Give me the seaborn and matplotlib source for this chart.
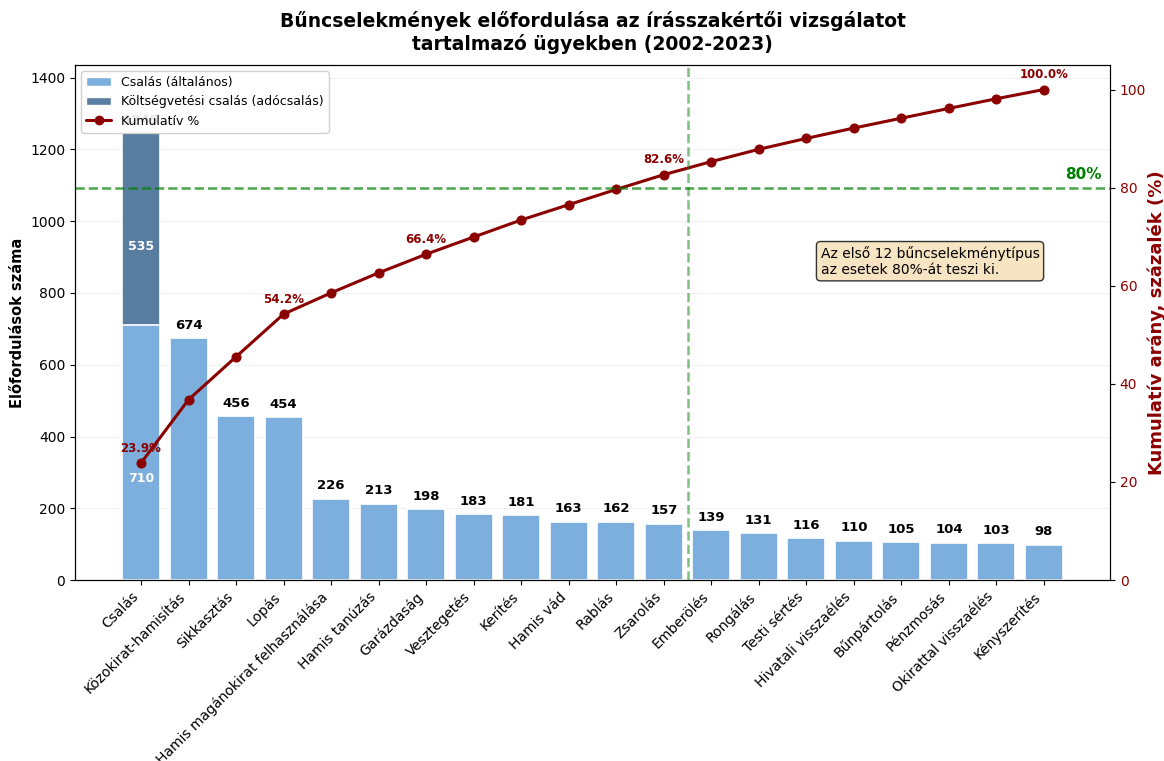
import numpy as np
import pandas as pd
import matplotlib
matplotlib.use('Agg')
import matplotlib.pyplot as plt
import seaborn as sns
from matplotlib.patches import Patch
from matplotlib.lines import Line2D

categories = ['Csalás', 'Közokirat-hamisítás', 'Sikkasztás', 'Lopás',
              'Hamis magánokirat felhasználása', 'Hamis tanúzás', 'Garázdaság',
              'Vesztegetés', 'Kerítés', 'Hamis vád', 'Rablás', 'Zsarolás',
              'Emberölés', 'Rongálás', 'Testi sértés', 'Hivatali visszaélés',
              'Bűnpártolás', 'Pénzmosás', 'Okirattal visszaélés', 'Kényszerítés']
general = [710, 674, 456, 454, 226, 213, 198, 183, 181, 163, 162, 157,
           139, 131, 116, 110, 105, 104, 103, 98]
tax_fraud = [535] + [0] * 19
pct_labelled = [0, 3, 6, 11, 19]

sns.set_style('ticks')
plt.rcParams['font.family'] = ['DejaVu Sans']
plt.rcParams.update({'text.color': 'black', 'axes.labelcolor': 'black',
                     'xtick.color': 'black', 'ytick.color': 'black',
                     'axes.edgecolor': 'black'})

df = pd.DataFrame({'cat': categories, 'general': general, 'tax': tax_fraud})
df['total'] = df['general'] + df['tax']
df['cum'] = df['total'].cumsum() / df['total'].sum() * 100

light = '#7cafdd'
dark = '#587da1'

fig, ax = plt.subplots(figsize=(11.64, 7.61), dpi=100)
fig.subplots_adjust(left=0.0644, right=0.9536, top=0.9146, bottom=0.2378)

# dark segment drawn as full total first, light part drawn over it
sns.barplot(data=df, x='cat', y='total', color=dark, saturation=1,
            edgecolor='white', linewidth=1.2, width=0.8, ax=ax)
sns.barplot(data=df, x='cat', y='general', color=light, saturation=1,
            edgecolor='white', linewidth=1.2, width=0.8, ax=ax)
ax.set_ylim(0, df['total'].max() * 1.153)
ax.grid(axis='y', alpha=0.25)
ax.set_axisbelow(True)

for i, row in df.iterrows():
    if row['tax'] > 0:
        ax.text(i, row['general'] * 0.4, f"{row['general']}", ha='center', va='center',
                color='white', fontsize=9, fontweight='bold')
        ax.text(i, row['general'] + row['tax'] * 0.41, f"{row['tax']}", ha='center',
                va='center', color='white', fontsize=9, fontweight='bold')
    ax.text(i, row['total'] + 18, f"{row['total']}", ha='center', va='bottom',
            fontsize=9.5, fontweight='bold')

ax2 = ax.twinx()
sns.lineplot(x=np.arange(len(df)), y=df['cum'].values, color='darkred', marker='o',
             markersize=6.5, linewidth=2.2, markeredgecolor='darkred', ax=ax2)
ax2.set_ylim(0, 105)
for i in pct_labelled:
    ax2.annotate(f"{df['cum'][i]:.1f}%", (i, df['cum'][i]), xytext=(0, 6),
                 textcoords='offset points', ha='center', va='bottom',
                 color='darkred', fontsize=8.5, fontweight='bold')

ax2.axhline(80, color='green', linestyle='--', linewidth=1.8, alpha=0.7)
ax2.axvline(11.5, color='green', linestyle='--', linewidth=1.8, alpha=0.5)
ax2.text(len(df) - 0.55, 81.2, '80%', color='green', fontsize=11,
         fontweight='bold', ha='left', va='bottom')
ax2.text(14.3, 65, 'Az első 12 bűncselekménytípus\naz esetek 80%-át teszi ki.',
         fontsize=10, ha='left', va='center',
         bbox=dict(boxstyle='round,pad=0.3', facecolor='wheat', edgecolor='black',
                   alpha=0.8))

ax2.set_ylabel('Kumulatív arány, százalék (%)', color='darkred', fontsize=13,
               fontweight='bold', labelpad=1)
ax2.tick_params(axis='y', labelcolor='darkred', labelsize=10)

ax.set_xticks(range(len(df)))
ax.set_xticklabels(categories, rotation=45, ha='right', fontsize=10)
ax.set_xlim(-1.39, len(df) + 0.39)
ax.tick_params(axis='y', labelsize=10)
ax.set_xlabel('A leggyakoribb bűncselekmény-típusok', fontsize=12, fontweight='bold')
ax.set_ylabel('Előfordulások száma', fontsize=10.5, fontweight='bold')
ax.set_title('Bűncselekmények előfordulása az írásszakértői vizsgálatot\n'
             'tartalmazó ügyekben (2002-2023)', fontsize=13.5, fontweight='bold',
             pad=11)

handles = [Patch(facecolor=light, label='Csalás (általános)'),
           Patch(facecolor=dark, label='Költségvetési csalás (adócsalás)'),
           Line2D([0], [0], color='darkred', marker='o', linewidth=2.2, label='Kumulatív %')]
ax2.legend(handles=handles, loc='upper left', fontsize=9, framealpha=0.9)

plt.savefig('out.png', dpi=100)
